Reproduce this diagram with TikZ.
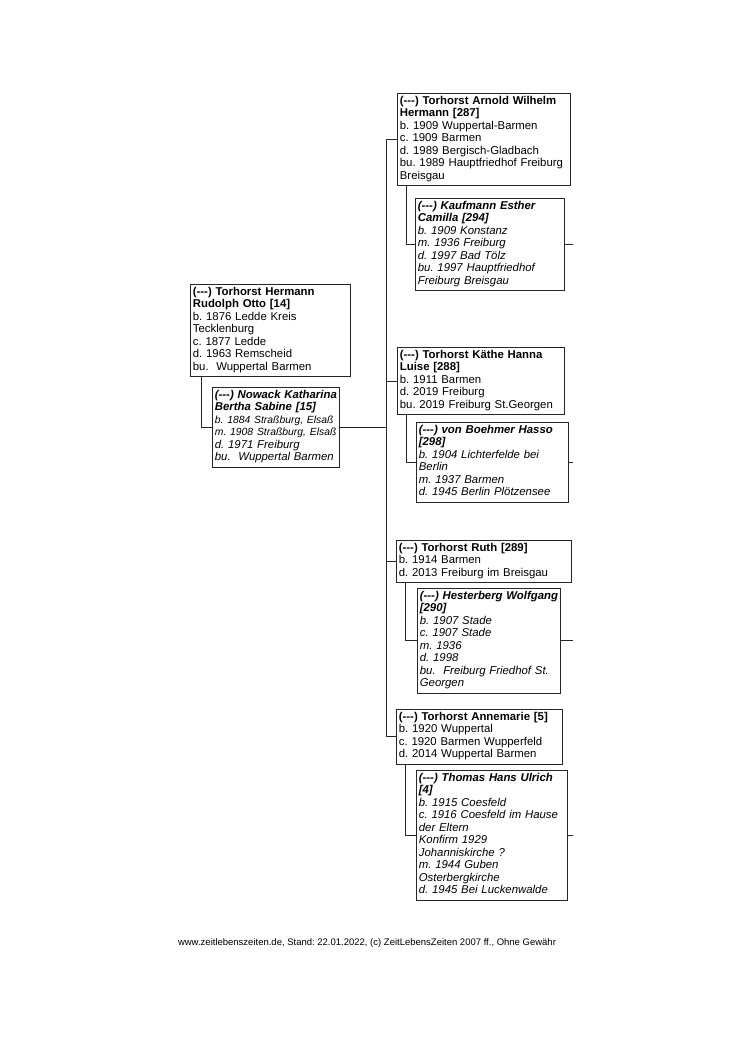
\documentclass[tikz,border=0pt]{standalone}
\usepackage{fontspec}
\setmainfont{Liberation Sans}[Ligatures=TeXOff]
\usetikzlibrary{positioning}
\frenchspacing

% one person entry, lines kept as given
\newcommand{\entrylines}[1]{\begin{tabular}{@{}l@{}}#1\end{tabular}}
\newcommand{\narrowline}[1]{{\fontsize{8.3}{10}\selectfont #1}}

\tikzset{
  person/.style={draw=black!85, line width=0.6pt, anchor=north west, align=left,
    inner xsep=2pt, inner ysep=1.8pt, font=\fontsize{9.1}{10}\selectfont},
  spouse/.style={person, font=\fontsize{9.1}{10}\selectfont\itshape},
  link/.style={draw=black!85, line width=0.6pt}
}

\begin{document}
\begin{tikzpicture}[x=0.8pt,y=-0.8pt]
 \useasboundingbox (0,0) rectangle (744,1052);

 % parents
 \node[person, text width=124pt] (hermann) at (190,284)
   {\entrylines{\textbf{(---) Torhorst Hermann}\\\textbf{Rudolph Otto [14]}\\b. 1876 Ledde Kreis\\Tecklenburg\\c. 1877 Ledde\\d. 1963 Remscheid\\bu.\ \ Wuppertal Barmen}};
 \node[spouse, text width=97.8pt] (nowack) at (212,387)
   {\entrylines{\textbf{(---) Nowack Katharina}\\\textbf{Bertha Sabine [15]}\\\narrowline{b. 1884 Straßburg, Elsaß}\\\narrowline{m. 1908 Straßburg, Elsaß}\\d. 1971 Freiburg\\bu.\ \ Wuppertal Barmen}};

 % children
 \node[person, text width=134.6pt] (arnold) at (397,93)
   {\entrylines{\textbf{(---) Torhorst Arnold Wilhelm}\\\textbf{Hermann [287]}\\b. 1909 Wuppertal-Barmen\\c. 1909 Barmen\\d. 1989 Bergisch-Gladbach\\bu. 1989 Hauptfriedhof Freiburg\\Breisgau}};
 \node[spouse, text width=115.4pt] (kaufmann) at (415,198)
   {\entrylines{\textbf{(---) Kaufmann Esther}\\\textbf{Camilla [294]}\\b. 1909 Konstanz\\m. 1936 Freiburg\\d. 1997 Bad Tölz\\bu. 1997 Hauptfriedhof\\Freiburg Breisgau}};

 \node[person, text width=129.8pt] (kaethe) at (397,347)
   {\entrylines{\textbf{(---) Torhorst Käthe Hanna}\\\textbf{Luise [288]}\\b. 1911 Barmen\\d. 2019 Freiburg\\bu. 2019 Freiburg St.Georgen}};
 \node[spouse, text width=117.8pt] (boehmer) at (416,422)
   {\entrylines{\textbf{(---) von Boehmer Hasso}\\\textbf{[298]}\\b. 1904 Lichterfelde bei\\Berlin\\m. 1937 Barmen\\d. 1945 Berlin Plötzensee}};

 \node[person, text width=136.2pt] (ruth) at (396,540)
   {\entrylines{\textbf{(---) Torhorst Ruth [289]}\\b. 1914 Barmen\\d. 2013 Freiburg im Breisgau}};
 \node[spouse, text width=110.6pt] (hesterberg) at (417,588)
   {\entrylines{\textbf{(---) Hesterberg Wolfgang}\\\textbf{[290]}\\b. 1907 Stade\\c. 1907 Stade\\m. 1936\\d. 1998\\bu.\ \ Freiburg Friedhof St.\\Georgen}};

 \node[person, text width=129pt] (anne) at (396,709)
   {\entrylines{\textbf{(---) Torhorst Annemarie [5]}\\b. 1920 Wuppertal\\c. 1920 Barmen Wupperfeld\\d. 2014 Wuppertal Barmen}};
 \node[spouse, text width=117pt] (thomas) at (416,770)
   {\entrylines{\textbf{(---) Thomas Hans Ulrich}\\\textbf{[4]}\\b. 1915 Coesfeld\\c. 1916 Coesfeld im Hause\\der Eltern\\Konfirm 1929\\Johanniskirche ?\\m. 1944 Guben\\Osterbergkirche\\d. 1945 Bei Luckenwalde}};

 \coordinate (trunk) at (386,0);
 \coordinate (stub) at (573,0);

 % tree lines
 \draw[link] (arnold.west) -- (arnold.west -| trunk) |- (anne.west);
 \draw[link] (kaethe.west) -- (kaethe.west -| trunk);
 \draw[link] (ruth.west) -- (ruth.west -| trunk);
 \draw[link] ([xshift=8.8pt]hermann.south west) |- (nowack.west);
 \draw[link] (nowack.east) -- (nowack.east -| trunk);
 \foreach \p/\s in {arnold/kaufmann, kaethe/boehmer, ruth/hesterberg, anne/thomas}{
   \draw[link] ([xshift=7.5pt]\p.south west) |- (\s.west);
   \draw[link] (\s.east) -- (\s.east -| stub);
 }

 \node[font=\fontsize{7.6}{8}\selectfont] (footer) at (367,943)
   {www.zeitlebenszeiten.de, Stand: 22.01.2022, (c) ZeitLebensZeiten 2007 ff., Ohne Gewähr};
\end{tikzpicture}
\end{document}
